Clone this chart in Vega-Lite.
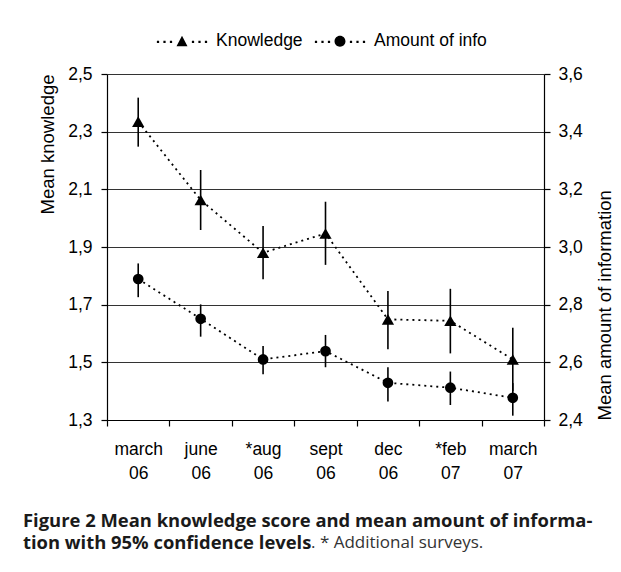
{
  "$schema": "https://vega.github.io/schema/vega-lite/v6.json",
  "width": 437,
  "height": 346,
  "autosize": {"type": "none"},
  "padding": {"left": 107, "top": 74, "right": 77, "bottom": 152},
  "background": "white",
  "config": {
    "view": {"stroke": null},
    "font": "Liberation Sans",
    "axis": {
      "domainColor": "black",
      "tickColor": "black",
      "labelColor": "black",
      "titleColor": "black",
      "labelFont": "Liberation Sans",
      "labelFontSize": 17.5,
      "titleFont": "Liberation Sans",
      "titleFontSize": 18.5,
      "titleFontWeight": "normal",
      "domainWidth": 1.2,
      "tickWidth": 1.2
    }
  },
  "title": {
    "text": ". * Additional surveys.",
    "subtitle": ["Figure 2 Mean knowledge score and mean amount of informa-", "tion with 95% confidence levels"],
    "orient": "bottom",
    "anchor": "start",
    "frame": "group",
    "dx": -84,
    "offset": 30,
    "font": "Open Sans",
    "fontSize": 17,
    "fontWeight": "normal",
    "color": "#333333",
    "lineHeight": 22,
    "subtitleFont": "Open Sans",
    "subtitleFontSize": 18.4,
    "subtitleFontWeight": "bold",
    "subtitleColor": "#1a1a1a",
    "subtitleLineHeight": 22,
    "subtitlePadding": -17,
    "encoding": {"dx": {"value": 204}, "dy": {"value": 23}}
  },
  "data": {
    "values": [
      {"date": "march 06", "series": "Knowledge", "value": 2.335, "lo": 2.248, "hi": 2.418},
      {"date": "june 06", "series": "Knowledge", "value": 2.063, "lo": 1.959, "hi": 2.167},
      {"date": "*aug 06", "series": "Knowledge", "value": 1.880, "lo": 1.788, "hi": 1.973},
      {"date": "sept 06", "series": "Knowledge", "value": 1.947, "lo": 1.838, "hi": 2.057},
      {"date": "dec 06", "series": "Knowledge", "value": 1.649, "lo": 1.545, "hi": 1.747},
      {"date": "*feb 07", "series": "Knowledge", "value": 1.644, "lo": 1.531, "hi": 1.755},
      {"date": "march 07", "series": "Knowledge", "value": 1.510, "lo": 1.400, "hi": 1.620},
      {"date": "march 06", "series": "Amount of info", "value": 2.889, "lo": 2.826, "hi": 2.943},
      {"date": "june 06", "series": "Amount of info", "value": 2.751, "lo": 2.689, "hi": 2.801},
      {"date": "*aug 06", "series": "Amount of info", "value": 2.610, "lo": 2.559, "hi": 2.657},
      {"date": "sept 06", "series": "Amount of info", "value": 2.639, "lo": 2.583, "hi": 2.695},
      {"date": "dec 06", "series": "Amount of info", "value": 2.529, "lo": 2.464, "hi": 2.583},
      {"date": "*feb 07", "series": "Amount of info", "value": 2.512, "lo": 2.452, "hi": 2.568},
      {"date": "march 07", "series": "Amount of info", "value": 2.477, "lo": 2.415, "hi": 2.528}
    ]
  },
  "encoding": {
    "x": {
      "field": "date",
      "type": "nominal",
      "sort": null,
      "bandPosition": 0.5,
      "scale": {"type": "band", "paddingInner": 0, "paddingOuter": 0},
      "axis": {
        "title": null,
        "tickBand": "extent",
        "labelExpr": "split(datum.label, ' ')",
        "labelAngle": 0,
        "labelLineHeight": 24,
        "labelPadding": 14,
        "tickSize": 6,
        "grid": false
      }
    }
  },
  "layer": [
    {
      "transform": [{"filter": "datum.series === 'Knowledge'"}],
      "encoding": {
        "y": {
          "field": "value",
          "type": "quantitative",
          "scale": {"domain": [1.3, 2.5], "nice": false, "zero": false},
          "axis": {
            "title": "Mean knowledge",
            "orient": "left",
            "values": [1.3, 1.5, 1.7, 1.9, 2.1, 2.3, 2.5],
            "labelExpr": "replace(format(datum.value, '.1f'), '.', ',')",
            "grid": true,
            "gridColor": "#333333",
            "gridWidth": 1,
            "tickSize": 6,
            "labelPadding": 9,
            "titleAnchor": "end",
            "titlePadding": 10
          }
        }
      },
      "layer": [
        {"mark": {"type": "line", "color": "black", "strokeWidth": 1.8, "strokeDash": [2, 4]}},
        {
          "mark": {"type": "rule", "color": "black", "strokeWidth": 1.6},
          "encoding": {
            "y": {"field": "lo", "type": "quantitative", "title": "Mean knowledge"},
            "y2": {"field": "hi"}
          }
        },
        {"mark": {"type": "point", "shape": "triangle-up", "filled": true, "color": "black", "opacity": 1, "size": 150}},
        {
          "mark": {"type": "point", "filled": true, "color": "black", "opacity": 1, "size": 0},
          "encoding": {
            "shape": {
              "field": "series",
              "type": "nominal",
              "scale": {
                "domain": ["Knowledge", "Amount of info"],
                "range": [
                  "M-0.897,-0.02L-0.817,-0.02L-0.817,0.06L-0.897,0.06Z M-0.665,-0.02L-0.585,-0.02L-0.585,0.06L-0.665,0.06Z M-0.433,-0.02L-0.353,-0.02L-0.353,0.06L-0.433,0.06Z M0.353,-0.02L0.433,-0.02L0.433,0.06L0.353,0.06Z M0.585,-0.02L0.665,-0.02L0.665,0.06L0.585,0.06Z M0.817,-0.02L0.897,-0.02L0.897,0.06L0.817,0.06Z M-0.196,0.18L0,-0.2L0.196,0.18Z",
                  "M-0.897,-0.02L-0.817,-0.02L-0.817,0.06L-0.897,0.06Z M-0.665,-0.02L-0.585,-0.02L-0.585,0.06L-0.665,0.06Z M-0.433,-0.02L-0.353,-0.02L-0.353,0.06L-0.433,0.06Z M0.353,-0.02L0.433,-0.02L0.433,0.06L0.353,0.06Z M0.585,-0.02L0.665,-0.02L0.665,0.06L0.585,0.06Z M0.817,-0.02L0.897,-0.02L0.897,0.06L0.817,0.06Z M0.196,0A0.196,0.196 0 1,1 -0.196,0A0.196,0.196 0 1,1 0.196,0Z"
                ]
              },
              "legend": {
                "title": null,
                "orient": "none",
                "legendX": 47,
                "legendY": -61,
                "direction": "horizontal",
                "symbolSize": 3136,
                "labelFontSize": 17.5,
                "labelFont": "Liberation Sans",
                "labelColor": "black",
                "labelOffset": 6,
                "columnPadding": 9,
                "padding": 0,
                "symbolFillColor": "black",
                "symbolStrokeWidth": 0,
                "symbolOpacity": 1
              }
            }
          }
        }
      ]
    },
    {
      "transform": [{"filter": "datum.series === 'Amount of info'"}],
      "encoding": {
        "y": {
          "field": "value",
          "type": "quantitative",
          "scale": {"domain": [2.4, 3.6], "nice": false, "zero": false},
          "axis": {
            "title": "Mean amount of information",
            "orient": "right",
            "values": [2.4, 2.6, 2.8, 3.0, 3.2, 3.4, 3.6],
            "labelExpr": "replace(format(datum.value, '.1f'), '.', ',')",
            "grid": false,
            "tickSize": 6,
            "labelPadding": 8,
            "titleAngle": 270,
            "titleAnchor": "start",
            "titleBaseline": "top",
            "titlePadding": 13
          }
        }
      },
      "layer": [
        {"mark": {"type": "line", "color": "black", "strokeWidth": 1.8, "strokeDash": [2, 4]}},
        {
          "mark": {"type": "rule", "color": "black", "strokeWidth": 1.6},
          "encoding": {
            "y": {"field": "lo", "type": "quantitative", "title": "Mean amount of information"},
            "y2": {"field": "hi"}
          }
        },
        {"mark": {"type": "point", "shape": "circle", "filled": true, "color": "black", "opacity": 1, "size": 115}}
      ]
    }
  ],
  "resolve": {"scale": {"y": "independent"}}
}
